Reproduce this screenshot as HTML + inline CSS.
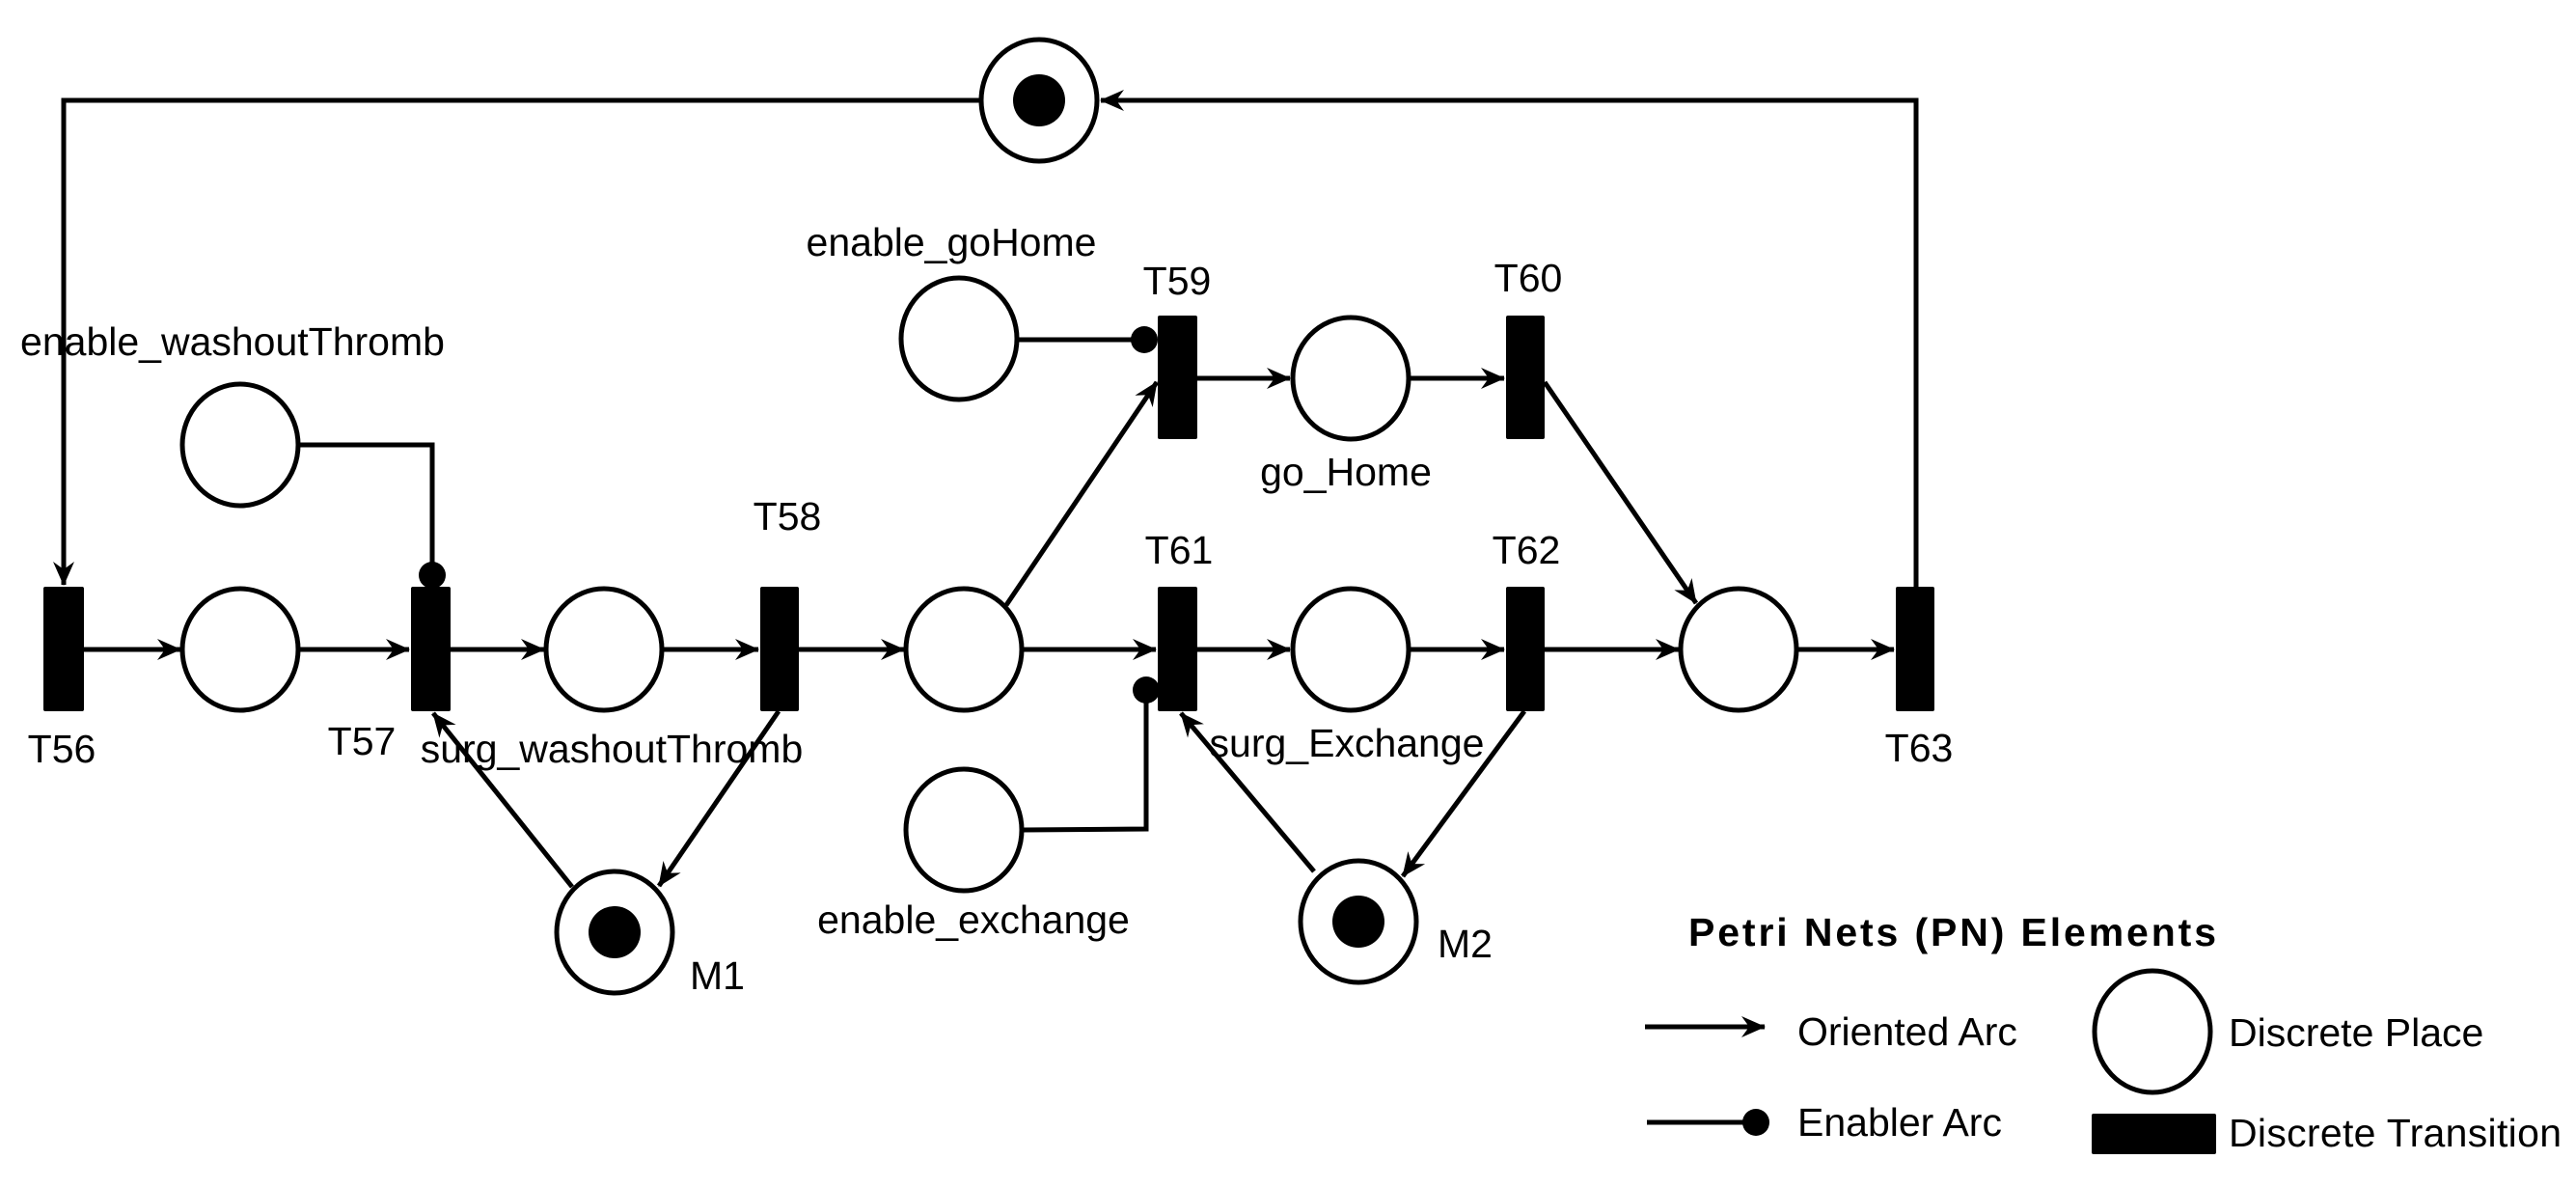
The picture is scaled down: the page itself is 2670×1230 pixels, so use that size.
<!DOCTYPE html>
<html><head><meta charset="utf-8"><style>
html,body{margin:0;padding:0;background:#fff}
svg{display:block}
text{font-family:"Liberation Sans",Arial,sans-serif;font-size:41px;fill:#000}
</style></head><body>
<svg width="2670" height="1230" viewBox="0 0 2670 1230" xmlns="http://www.w3.org/2000/svg">
<defs>
<marker id="a" markerWidth="10" markerHeight="10" refX="0" refY="0" orient="auto" markerUnits="userSpaceOnUse" style="overflow:visible">
<path d="M-24,-11 L1,0 L-24,11 L-16,0 Z" fill="#000" stroke="none"/>
</marker>
</defs>
<g stroke="#000" stroke-width="5" fill="none">
<polyline points="1018,104 66,104 66,606" marker-end="url(#a)"/>
<polyline points="1986,608 1986,104 1141,104" marker-end="url(#a)"/>
<line x1="87" y1="673" x2="187" y2="673" marker-end="url(#a)"/>
<line x1="311" y1="673" x2="424" y2="673" marker-end="url(#a)"/>
<line x1="467" y1="673" x2="564" y2="673" marker-end="url(#a)"/>
<line x1="688" y1="673" x2="786" y2="673" marker-end="url(#a)"/>
<line x1="828" y1="673" x2="937" y2="673" marker-end="url(#a)"/>
<line x1="1061" y1="673" x2="1198" y2="673" marker-end="url(#a)"/>
<line x1="1241" y1="673" x2="1337" y2="673" marker-end="url(#a)"/>
<line x1="1461" y1="673" x2="1559" y2="673" marker-end="url(#a)"/>
<line x1="1601" y1="673" x2="1740" y2="673" marker-end="url(#a)"/>
<line x1="1864" y1="673" x2="1963" y2="673" marker-end="url(#a)"/>
<line x1="1241" y1="392" x2="1337" y2="392" marker-end="url(#a)"/>
<line x1="1461" y1="392" x2="1559" y2="392" marker-end="url(#a)"/>
<line x1="1043" y1="627" x2="1199" y2="396" marker-end="url(#a)"/>
<line x1="1601" y1="396" x2="1758" y2="625" marker-end="url(#a)"/>
<line x1="593" y1="919" x2="449" y2="739" marker-end="url(#a)"/>
<line x1="807" y1="737" x2="683" y2="918" marker-end="url(#a)"/>
<line x1="1362" y1="903" x2="1224" y2="739" marker-end="url(#a)"/>
<line x1="1580" y1="737" x2="1454" y2="908" marker-end="url(#a)"/>
<polyline points="309,461 448,461 448,596"/>
<line x1="1054" y1="352" x2="1186" y2="352"/>
<polyline points="1060,860 1188,859 1188,715"/>
<ellipse cx="1077" cy="104" rx="60" ry="63"/>
<ellipse cx="249" cy="461" rx="60" ry="63"/>
<ellipse cx="994" cy="351" rx="60" ry="63"/>
<ellipse cx="249" cy="673" rx="60" ry="63"/>
<ellipse cx="626" cy="673" rx="60" ry="63"/>
<ellipse cx="999" cy="673" rx="60" ry="63"/>
<ellipse cx="1400" cy="392" rx="60" ry="63"/>
<ellipse cx="1400" cy="673" rx="60" ry="63"/>
<ellipse cx="1802" cy="673" rx="60" ry="63"/>
<ellipse cx="999" cy="860" rx="60" ry="63"/>
<ellipse cx="637" cy="966" rx="60" ry="63"/>
<ellipse cx="1408" cy="955" rx="60" ry="63"/>
<line x1="1705" y1="1064" x2="1829" y2="1064" marker-end="url(#a)"/>
<line x1="1707" y1="1163" x2="1820" y2="1163"/>
<ellipse cx="2231" cy="1069" rx="60" ry="63"/>
</g>
<g fill="#000">
<circle cx="1077" cy="104" r="27"/>
<circle cx="637" cy="966" r="27"/>
<circle cx="1408" cy="955" r="27"/>
<circle cx="448" cy="596" r="14"/>
<circle cx="1186" cy="352" r="14"/>
<circle cx="1188" cy="715" r="14"/>
<circle cx="1820" cy="1163" r="14"/>
<rect x="45" y="608" width="42" height="129" rx="2"/>
<rect x="426" y="608" width="41" height="129" rx="2"/>
<rect x="788" y="608" width="40" height="129" rx="2"/>
<rect x="1200" y="608" width="41" height="129" rx="2"/>
<rect x="1200" y="327" width="41" height="128" rx="2"/>
<rect x="1561" y="327" width="40" height="128" rx="2"/>
<rect x="1561" y="608" width="40" height="129" rx="2"/>
<rect x="1965" y="608" width="40" height="129" rx="2"/>
<rect x="2168" y="1154" width="129" height="42" rx="2"/>
</g>
<g text-anchor="middle">
<text x="64" y="790">T56</text>
<text x="375" y="782">T57</text>
<text x="634" y="790">surg_washoutThromb</text>
<text x="816" y="549">T58</text>
<text x="241" y="368">enable_washoutThromb</text>
<text x="986" y="265">enable_goHome</text>
<text x="1220" y="305">T59</text>
<text x="1222" y="584">T61</text>
<text x="1009" y="967">enable_exchange</text>
<text x="1395" y="503">go_Home</text>
<text x="1584" y="302">T60</text>
<text x="1582" y="584">T62</text>
<text x="1396" y="784">surg_Exchange</text>
<text x="1989" y="789">T63</text>
</g>
<text x="715" y="1025">M1</text>
<text x="1490" y="992">M2</text>
<text x="1750" y="980" font-weight="bold" textLength="547">Petri Nets (PN) Elements</text>
<text x="1863" y="1083">Oriented Arc</text>
<text x="1863" y="1177">Enabler Arc</text>
<text x="2310" y="1084">Discrete Place</text>
<text x="2310" y="1188" textLength="345">Discrete Transition</text>
</svg>
</body></html>
